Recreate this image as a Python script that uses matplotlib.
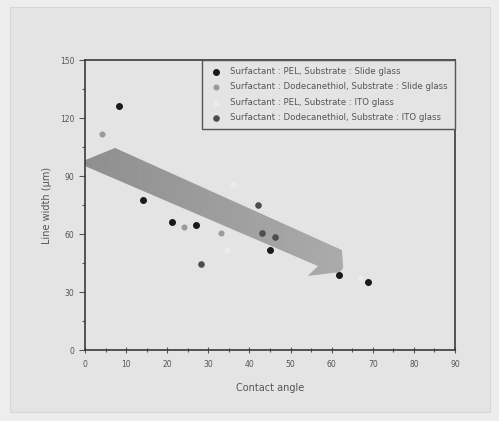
import matplotlib.pyplot as plt
import numpy as np
from matplotlib.patches import Polygon, Rectangle

# data
pel_slide_x = [8.3, 14.0, 21.1, 27.0, 45.0, 61.8, 68.8]
pel_slide_y = [126.4, 77.6, 66.2, 64.7, 51.7, 39.0, 35.0]
dod_slide_x = [4.2, 24.1, 33.1]
dod_slide_y = [111.6, 63.5, 60.3]
pel_ito_x = [34.5, 36.0, 67.0]
pel_ito_y = [51.7, 86.0, 37.0]
dod_ito_x = [28.2, 42.0, 43.0, 46.1]
dod_ito_y = [44.5, 75.2, 60.3, 58.6]

labels = ["Surfactant : PEL, Substrate : Slide glass",
          "Surfactant : Dodecanethiol, Substrate : Slide glass",
          "Surfactant : PEL, Substrate : ITO glass",
          "Surfactant : Dodecanethiol, Substrate : ITO glass"]

# trend arrow outline (data units)
arrow_x = [-1.7, 7.3, 62.5, 62.8, 62.0, 54.2, 56.7]
arrow_y = [96.7, 104.5, 51.7, 42.4, 40.3, 38.3, 43.4]

bg = '#e4e4e4'
fig = plt.figure(figsize=(4.99, 4.21), dpi=100, facecolor='#ededed')
fig.patches.append(Rectangle((10/499, 1-412/421), 480/499, 405/421,
                             transform=fig.transFigure, facecolor=bg,
                             edgecolor='#d6d6d6', lw=0.8, zorder=-10))
ax = fig.add_axes([85/499, 1-350/421, 370/499, 290/421])
ax.set_facecolor(bg)

# arrow with a left-to-right grey gradient
poly = Polygon(list(zip(arrow_x, arrow_y)), closed=True, facecolor='none',
               edgecolor='none', clip_on=False)
ax.add_patch(poly)
grad = np.linspace(0, 1, 256).reshape(1, -1)
img = ax.imshow(grad, cmap='gray', vmin=-4.93, vmax=3.92, aspect='auto',
                extent=(min(arrow_x), max(arrow_x), min(arrow_y), max(arrow_y)),
                zorder=1)
img.set_clip_path(poly)
img.set_clip_box(None)

ax.scatter(pel_slide_x, pel_slide_y, s=16, c='#1a1a1a', label=labels[0], zorder=3)
ax.scatter(dod_slide_x, dod_slide_y, s=11, c='#9a9a9a', label=labels[1], zorder=3)
ax.scatter(pel_ito_x, pel_ito_y, s=11, c='#ececec', label=labels[2], zorder=3)
ax.scatter(dod_ito_x, dod_ito_y, s=14, c='#4d4d4d', label=labels[3], zorder=3)

ax.set_xlim(0, 90)
ax.set_ylim(0, 150)
ax.set_xticks(range(0, 91, 10))
ax.set_yticks(range(0, 151, 30))
ax.set_xticks(range(5, 90, 10), minor=True)
ax.set_yticks(range(15, 150, 30), minor=True)
ax.tick_params(axis='x', which='both', direction='inout', labelsize=5.5,
               colors='#555555', length=4, width=0.8, pad=5)
ax.tick_params(axis='y', which='both', direction='out', labelsize=5.5,
               colors='#555555', length=4, width=0.8)
ax.tick_params(which='minor', length=2.5)
for sp in ax.spines.values():
    sp.set_color('#3a3a3a')
    sp.set_linewidth(1.2)

ax.set_xlabel('Contact angle', fontsize=7, color='#555555', labelpad=10)
ax.set_ylabel('Line width (μm)', fontsize=7, color='#555555', labelpad=6)

leg = ax.legend(loc='upper right', fontsize=6.2, frameon=True, fancybox=False,
                borderaxespad=0, handletextpad=0.9, labelspacing=0.75,
                borderpad=0.8, handlelength=1.6, scatterpoints=1)
leg.get_frame().set_facecolor(bg)
leg.get_frame().set_edgecolor('#555555')
leg.get_frame().set_linewidth(1.0)
leg.get_frame().set_alpha(1)
for t in leg.get_texts():
    t.set_color('#555555')

fig.savefig('out.png', dpi=100, facecolor=fig.get_facecolor())
